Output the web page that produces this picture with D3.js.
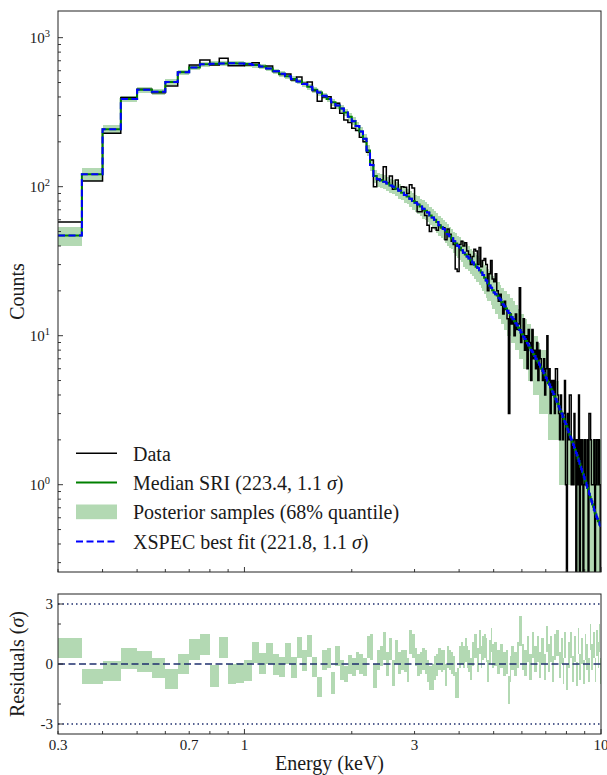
<!DOCTYPE html>
<html><head><meta charset="utf-8">
<script src="https://cdn.jsdelivr.net/npm/d3@7"></script>
<style>
body{margin:0;background:#fff;}
svg text{font-family:"Liberation Serif","Times New Roman",serif;fill:#1a1a1a;}
</style></head><body>
<svg id="c" width="607" height="775"></svg>
<script>
// ---- bin edges (keV) ----
const edges = [
0.30,0.35,0.40,0.45,0.50,0.55,0.60,0.65,0.70,0.75,
0.80,0.85,0.90,0.95,1.00,1.05,1.10,1.15,1.20,1.25,
1.30,1.35,1.40,1.45,1.50,1.55,1.60,1.65,1.70,1.75,
1.80,1.85,1.90,1.95,2.00,2.05,2.10,2.15,2.20,2.25,
2.30,2.35,2.40,2.45,2.50,2.55,2.60,2.65,2.70,2.75,
2.80,2.85,2.90,2.95,3.00,3.05,3.10,3.15,3.20,3.25,
3.30,3.35,3.40,3.45,3.50,3.55,3.60,3.65,3.70,3.75,
3.80,3.85,3.90,3.95,4.00,4.05,4.10,4.15,4.20,4.25,
4.30,4.35,4.40,4.45,4.50,4.55,4.60,4.65,4.70,4.75,
4.80,4.85,4.90,4.95,5.00,5.05,5.10,5.15,5.20,5.25,
5.30,5.35,5.40,5.45,5.50,5.55,5.60,5.65,5.70,5.75,
5.80,5.85,5.90,5.95,6.00,6.05,6.10,6.15,6.20,6.25,
6.30,6.35,6.40,6.45,6.50,6.55,6.60,6.65,6.70,6.75,
6.80,6.85,6.90,6.95,7.00,7.05,7.10,7.15,7.20,7.25,
7.30,7.35,7.40,7.45,7.50,7.55,7.60,7.65,7.70,7.75,
7.80,7.85,7.90,7.95,8.00,8.05,8.10,8.15,8.20,8.25,
8.30,8.35,8.40,8.45,8.50,8.55,8.60,8.65,8.70,8.75,
8.80,8.85,8.90,8.95,9.00,9.05,9.10,9.15,9.20,9.25,
9.30,9.35,9.40,9.45,9.50,9.55,9.60,9.65,9.70,9.75,
9.80,9.85,9.90,9.95,10.00];

// ---- observed counts per bin ----
const dataCounts = [
58,109,228,396,451,427,473,586,655,707,
655,728,649,649,655,679,640,646,592,565,
570,520,545,495,505,440,375,400,402,336,
363,311,280,270,247,238,215,200,170,151,
100,111,111,136,106,118,96,111,95,100,
99,90,103,98,79,68,68,70,64,55,
50,53,53,51,55,53,53,44,52,48,
43,41,28,27,41,43,40,42,37,35,
30,34,38,37,30,39,29,32,33,30,
20,26,32,24,23,26,20,17,19,16,
14,17,15,13,3,14,12,13,10,14,
11,12,21,9,10,13,8,10,6,11,
9,5,11,7,8,6,9,5,8,7,
6,5,7,4,6,10,5,6,3,5,
4,5,3,6,6,4,3,2,4,3,
2,3,5,1,0,3,2,4,4,1,
2,1,3,2,0,2,1,4,0,2,
1,2,0,1,2,1,1,2,0,3,
3,2,1,1,1,2,0,1,2,2,
1,2,1,0];

// ---- median SRI model counts per bin ----
const medianModel = [
47,121,243,388,448,434,505,586,630,662,
668,672,673,670,665,655,640,620,595,572,
550,528,508,488,469,448,428,408,388,368,
350,335,315,295,275,255,235,210,175,140,
118,112,110,108,105,102,100,97,94,91,
88,86,83,80,78,76,73.5,71,69,67,
64,62,60,58,55,53.5,52,50,48,46.5,
45,43,41.5,40,39,37.5,36,35,34,33,
32,31,30,29,28.5,27.5,26.5,25.5,24.5,23.5,
22.5,21.7,21,20.2,19.5,19,18.6,18,17.5,16.8,
16.2,15.7,15.2,14.7,14.2,13.8,13.3,12.9,12.5,12.1,
11.7,11.3,10.9,10.5,10.2,9.8,9.5,9.2,8.9,8.6,
8.3,8.0,7.8,7.5,7.3,7.0,6.8,6.6,6.4,6.2,
6.0,5.8,5.6,5.4,5.2,5.0,4.8,4.7,4.5,4.35,
4.2,4.05,3.9,3.75,3.6,3.5,3.35,3.2,3.1,3.0,
2.85,2.75,2.65,2.55,2.45,2.35,2.25,2.15,2.07,2.0,
1.92,1.85,1.77,1.7,1.63,1.57,1.5,1.44,1.38,1.32,
1.27,1.22,1.17,1.12,1.07,1.03,0.99,0.95,0.91,0.87,
0.83,0.8,0.77,0.74,0.71,0.68,0.65,0.63,0.61,0.59,
0.57,0.56,0.54,0.53];

// ---- XSPEC best fit (indistinguishable from the median at this scale) ----
const xspecFit = medianModel;

// ---- posterior samples, 68% quantile band ----
const bandLow = [
40,109,228,368,427,413,482,562,605,637,
642,646,647,644,639,629,615,595,571,548,
527,505,486,466,448,427,408,388,368,349,
331,316,297,277,258,238,219,195,161,127,
106,100,98,97,94,91,89,86,83,81,
78,76,73,70,68,66,64,61,60,58,
55,53,51,49,47,45,44,42,40,39,
38,36,34,33,32,31,29,28,28,27,
26,25,24,23,23,22,21,20,19,18,
17,17,16,15,15,14,14,13,13,12,
12,11,11,10,10,10,9,9,9,8,
8,8,7,7,7,6,6,6,6,5,
5,5,5,4,4,4,4,4,3,3,
3,3,3,3,3,3,2,2,2,2,
2,2,2,2,2,2,1,1,1,1,
1,1,1,1,1,1,1,1,1,1,
1,1,1,1,0,0,0,0,0,0,
0,0,0,0,0,0,0,0,0,0,
0,0,0,0,0,0,0,0,0,0,
0,0,0,0];
const bandHigh = [
54,133,260,408,469,455,528,610,655,687,
694,698,699,696,691,681,665,645,619,596,
573,551,530,510,490,469,448,428,408,387,
369,354,333,313,292,272,251,225,189,153,
130,124,122,119,116,113,111,108,105,101,
98,96,93,90,88,86,83,81,79,77,
73,71,69,67,64,62,60,58,56,54,
52,50,49,47,46,44,43,42,41,40,
38,37,36,35,34,33,32,31,30,29,
28,27,26,25,24,24,23,23,22,21,
21,20,20,19,19,18,18,17,17,16,
16,15,15,14,14,14,13,13,12,12,
12,11,11,11,10,10,10,9,9,8,
8,8,8,8,8,8,5,5,5,5,
5,5,5,5,5,5,3,3,3,3,
3,3,3,3,3,3,2,2,2,2,
2,2,2,2,2,2,2,2,2,2,
2,2,2,2,2,2,2,2,2,2,
2,2,2,2,2,2,2,2,2,2,
2,2,2,2];

// ---- residual band (sigma) ----
const resLow = [
0.29,-1.0,-0.83,-0.27,-0.38,-0.72,-1.27,-0.52,0.2,0.45,
-1.13,0.28,-1.02,-0.97,-0.83,0.03,-0.52,0.0,-0.55,-0.67,
0.0,-0.68,0.32,-0.33,0.37,-0.67,-1.67,-0.3,-0.2,-1.5,
-0.1,-0.8,-0.9,-0.5,-0.6,-0.3,-0.5,-0.6,0.3,0.2,
-1.2,-0.3,-0.1,0.2,-0.6,0.2,-1.1,0.0,-0.5,-0.3,
-0.4,-0.9,0.5,0.3,-0.1,-0.6,-0.5,-0.3,-0.5,-0.9,
-1.3,-1.3,-0.8,-0.6,-0.3,-0.4,-0.3,-1.1,-0.2,-0.3,
-0.5,-0.6,-1.7,-1.7,-0.2,0.0,-0.2,0.1,-0.2,-0.4,
-0.8,-0.1,0.3,0.3,-0.4,0.5,-0.2,0.2,0.3,0.1,
-0.9,0.0,0.6,-0.2,-0.1,-0.1,-0.5,-0.5,-0.2,-0.2,
-0.6,-0.6,-0.5,-0.5,-2.0,-0.9,-0.3,-0.3,-0.6,-0.6,
-0.2,-0.2,0.9,0.9,-0.3,-0.3,-0.6,-0.6,0.1,0.1,
-0.8,-0.8,0.3,0.3,-0.4,-0.4,0.1,0.1,-0.7,-0.7,
0.0,0.0,-0.8,-0.8,0.6,0.6,-0.4,-0.4,0.1,0.1,
-0.9,-0.9,0.2,0.2,0.4,0.4,-0.7,-0.7,0.0,0.0,
-1.0,-1.0,0.3,0.3,-1.3,-1.3,-0.2,-0.2,0.3,0.3,
-0.9,-0.9,0.1,0.1,-1.1,-1.1,0.5,0.5,-0.8,-0.8,
0.0,0.0,-1.0,-1.0,0.2,0.2,-0.3,-0.3,-0.9,-0.9,
0.7,0.7,-0.3,-0.3,0.3,0.3,-0.9,-0.9,0.4,0.4,
-0.2,-0.2,0.6,-1.0];
const resHigh = [
1.29,-0.27,0.17,0.78,0.67,0.32,-0.25,0.48,1.25,1.48,
-0.05,1.33,0.0,0.07,0.2,1.08,0.53,1.03,0.5,0.37,
1.07,0.37,1.37,0.7,1.43,0.37,-0.63,0.7,0.8,-0.4,
0.9,0.2,-0.1,0.45,0.3,0.6,0.5,0.3,1.4,1.5,
0.0,0.7,0.9,1.6,0.6,1.3,0.2,1.2,0.6,0.7,
0.7,0.3,1.7,1.5,0.8,0.5,0.6,0.8,0.7,0.2,
-0.1,0.0,0.4,0.5,0.8,0.7,0.7,0.0,0.9,0.7,
0.6,0.4,-0.4,-0.2,0.9,1.1,0.9,1.3,0.9,0.7,
0.3,1.1,1.5,1.5,0.8,1.7,0.9,1.4,1.5,1.3,
0.2,1.2,1.8,1.0,1.1,1.1,0.7,0.7,1.0,1.0,
0.6,0.6,0.7,0.7,-0.6,0.4,0.9,0.9,0.6,0.6,
1.1,1.1,2.4,2.4,1.0,1.0,0.7,0.7,1.4,1.4,
0.5,0.5,1.6,1.6,0.9,0.9,1.4,1.4,0.6,0.6,
1.3,1.3,0.5,0.5,1.9,1.9,1.0,1.0,1.4,1.4,
0.4,0.4,1.5,1.5,1.7,1.7,0.6,0.6,1.3,1.3,
0.3,0.3,1.6,1.6,0.0,0.0,1.1,1.1,1.6,1.6,
0.4,0.4,1.4,1.4,0.1,0.1,1.8,1.8,0.5,0.5,
1.3,1.3,0.2,0.2,1.5,1.5,1.0,1.0,0.3,0.3,
2.0,2.0,1.0,1.0,1.6,1.6,0.3,0.3,1.7,1.7,
1.1,1.1,2.0,0.3];

// ---- ticks & labels ----
const yMajorTicks = [1, 10, 100, 1000];
const yMajorExp = ["0", "1", "2", "3"];
const xLabelTicks = [0.3, 0.7, 1, 3, 10];
const xLabelText = ["0.3", "0.7", "1", "3", "10"];
const xMajorTicks = [1, 10];
const resMajorTicks = [-3, 0, 3];
const resMinorTicks = [-2, 2];
const resRefLines = [-3, 3];
const legendLabels = [
  ["Data"],
  ["Median SRI (223.4, 1.1 ", "σ", ")"],
  ["Posterior samples (68% quantile)"],
  ["XSPEC best fit (221.8, 1.1 ", "σ", ")"]
];

// ---- layout ----
const L = 58, R = 601, T = 11, B = 572, RT = 594, RB = 734;
const bandColor = "#b3d9b3";
const refColor = "#1f2f6e";

const svg = d3.select("#c");
const x = d3.scaleLog().domain([0.3, 10]).range([L, R]);
const y = d3.scaleLog().domain([0.2595, 1510]).range([B, T]);
const yr = d3.scaleLinear().domain([-3.5, 3.5]).range([RB, RT]);

const defs = svg.append("defs");
defs.append("clipPath").attr("id", "clipMain").append("rect")
  .attr("x", L).attr("y", T).attr("width", R - L).attr("height", B - T);
defs.append("clipPath").attr("id", "clipRes").append("rect")
  .attr("x", L).attr("y", RT).attr("width", R - L).attr("height", RB - RT);

const bins = edges.slice(0, -1).map((lo, i) => ({
  lo, hi: edges[i + 1], d: dataCounts[i], m: medianModel[i], f: xspecFit[i],
  bl: bandLow[i], bh: bandHigh[i], rl: resLow[i], rh: resHigh[i]
}));

const floorY = B + 40;
const yv = v => (v > 0 ? y(v) : floorY);

function stepPts(key) {
  return bins.flatMap(b => [[b.lo, b[key]], [b.hi, b[key]]]);
}
const lineGen = d3.line().x(p => x(p[0])).y(p => yv(p[1]));

// ---- main panel ----
const main = svg.append("g").attr("clip-path", "url(#clipMain)");
const bandPts = bins.flatMap(b => [{e: b.lo, lo: b.bl, hi: b.bh}, {e: b.hi, lo: b.bl, hi: b.bh}]);
main.append("path")
  .attr("d", d3.area().x(p => x(p.e)).y0(p => yv(p.lo)).y1(p => yv(p.hi))(bandPts))
  .attr("fill", bandColor).attr("stroke", "none").attr("shape-rendering", "crispEdges");
main.append("path").attr("d", lineGen(stepPts("d")))
  .attr("fill", "none").attr("stroke", "#000").attr("stroke-width", 1.5);
main.append("path").attr("d", lineGen(stepPts("m")))
  .attr("fill", "none").attr("stroke", "#008000").attr("stroke-width", 2);
main.append("path").attr("d", lineGen(stepPts("f")))
  .attr("fill", "none").attr("stroke", "#0000ff").attr("stroke-width", 2)
  .attr("stroke-dasharray", "7,3.5");

// ---- residual panel ----
const res = svg.append("g").attr("clip-path", "url(#clipRes)");
const resPts = bins.flatMap(b => [{e: b.lo, lo: b.rl, hi: b.rh}, {e: b.hi, lo: b.rl, hi: b.rh}]);
res.append("path")
  .attr("d", d3.area().x(p => x(p.e)).y0(p => yr(p.lo)).y1(p => yr(p.hi))(resPts))
  .attr("fill", bandColor).attr("stroke", "none").attr("shape-rendering", "crispEdges");
res.selectAll("line.ref").data(resRefLines).join("line").attr("class", "ref")
  .attr("x1", L).attr("x2", R).attr("y1", d => yr(d)).attr("y2", d => yr(d))
  .attr("stroke", refColor).attr("stroke-width", 1.5).attr("stroke-dasharray", "1.5,3");
res.append("line").attr("x1", L).attr("x2", R).attr("y1", yr(0)).attr("y2", yr(0))
  .attr("stroke", refColor).attr("stroke-width", 1.5).attr("stroke-dasharray", "7,3.5");

// ---- ticks ----
const tg = svg.append("g").attr("stroke", "#222").attr("stroke-width", 0.9);
const minorX = [];
[0.1, 1].forEach(dec => { for (let k = 2; k <= 9; k++) { const v = +(k * dec).toFixed(2); if (v >= 0.3 && v <= 10) minorX.push(v); } });
function xTicks(yBase) {
  minorX.forEach(v => tg.append("line").attr("x1", x(v)).attr("x2", x(v)).attr("y1", yBase).attr("y2", yBase - 3));
  xMajorTicks.forEach(v => tg.append("line").attr("x1", x(v)).attr("x2", x(v)).attr("y1", yBase).attr("y2", yBase - 5));
}
xTicks(B); xTicks(RB);
[0.1, 1, 10, 100, 1000].forEach(dec => {
  for (let k = 2; k <= 9; k++) {
    const v = k * dec;
    if (v >= 0.2595 && v <= 1510) tg.append("line").attr("x1", L).attr("x2", L + 3).attr("y1", y(v)).attr("y2", y(v));
  }
});
yMajorTicks.forEach(v => tg.append("line").attr("x1", L).attr("x2", L + 5).attr("y1", y(v)).attr("y2", y(v)));
resMajorTicks.forEach(v => tg.append("line").attr("x1", L).attr("x2", L + 5).attr("y1", yr(v)).attr("y2", yr(v)));
resMinorTicks.forEach(v => tg.append("line").attr("x1", L).attr("x2", L + 3).attr("y1", yr(v)).attr("y2", yr(v)));

// frames
svg.append("rect").attr("x", L).attr("y", T).attr("width", R - L).attr("height", B - T)
  .attr("fill", "none").attr("stroke", "#222").attr("stroke-width", 1);
svg.append("rect").attr("x", L).attr("y", RT).attr("width", R - L).attr("height", RB - RT)
  .attr("fill", "none").attr("stroke", "#222").attr("stroke-width", 1);

// ---- tick labels ----
const tickFont = 15;
yMajorTicks.forEach((v, i) => {
  const t = svg.append("text").attr("x", 50).attr("y", y(v) + 5.5).attr("text-anchor", "end")
    .style("font-size", tickFont + "px");
  t.append("tspan").text("10");
  t.append("tspan").attr("dy", -6).style("font-size", "10.5px").text(yMajorExp[i]);
});
resMajorTicks.forEach(v => {
  svg.append("text").attr("x", 53).attr("y", yr(v) + 5).attr("text-anchor", "end")
    .style("font-size", tickFont + "px").text(v < 0 ? "-" + Math.abs(v) : String(v));
});
xLabelTicks.forEach((v, i) => {
  svg.append("text").attr("x", x(v)).attr("y", 749.5).attr("text-anchor", "middle")
    .style("font-size", tickFont + "px").text(xLabelText[i]);
});

// ---- axis titles ----
const labFont = 20;
svg.append("text").attr("transform", "translate(24,291.5) rotate(-90)").attr("text-anchor", "middle")
  .style("font-size", labFont + "px").text("Counts");
const rl = svg.append("text").attr("transform", "translate(24,664) rotate(-90)").attr("text-anchor", "middle")
  .style("font-size", labFont + "px");
rl.append("tspan").text("Residuals (");
rl.append("tspan").style("font-style", "italic").text("σ");
rl.append("tspan").text(")");
svg.append("text").attr("x", (L + R) / 2).attr("y", 770).attr("text-anchor", "middle")
  .style("font-size", labFont + "px").text("Energy (keV)");

// ---- legend ----
const legY = [460.7, 490, 519.3, 549];
legendLabels.forEach((parts, i) => {
  const cy = legY[i] - 7.5;
  if (i === 0) svg.append("line").attr("x1", 76).attr("x2", 117).attr("y1", cy).attr("y2", cy).attr("stroke", "#000").attr("stroke-width", 1.5);
  if (i === 1) svg.append("line").attr("x1", 76).attr("x2", 117).attr("y1", cy).attr("y2", cy).attr("stroke", "#008000").attr("stroke-width", 2);
  if (i === 2) svg.append("rect").attr("x", 76).attr("y", cy - 7.3).attr("width", 41).attr("height", 14.7).attr("fill", bandColor);
  if (i === 3) svg.append("line").attr("x1", 76).attr("x2", 117).attr("y1", cy).attr("y2", cy).attr("stroke", "#0000ff").attr("stroke-width", 2).attr("stroke-dasharray", "7,3.5");
  const t = svg.append("text").attr("x", 133).attr("y", legY[i]).style("font-size", labFont + "px");
  parts.forEach(p => {
    const s = t.append("tspan").text(p);
    if (p === "σ") s.style("font-style", "italic");
  });
});
</script>
</body></html>
